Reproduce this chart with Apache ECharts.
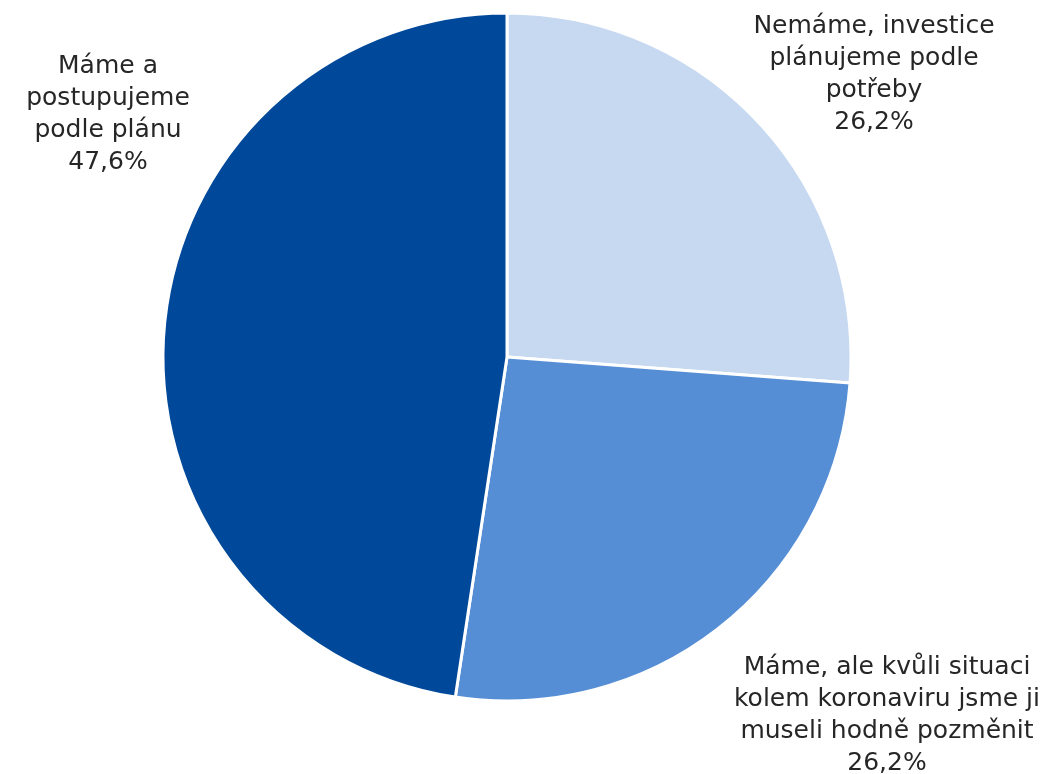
<!DOCTYPE html>
<html>
<head>
<meta charset="utf-8">
<script src="https://cdn.jsdelivr.net/npm/echarts@6/dist/echarts.min.js"></script>
<style>
  html, body { margin: 0; padding: 0; background: #ffffff; }
  #chart { width: 1049px; height: 774px; }
</style>
</head>
<body>
<div id="chart"></div>
<script>
// Slice names and shares (percent), clockwise from 12 o'clock
const categories = [
  'Nemáme, investice\nplánujeme podle\npotřeby',
  'Máme, ale kvůli situaci\nkolem koronaviru jsme ji\nmuseli hodně pozměnit',
  'Máme a\npostupujeme\npodle plánu'
];
const values = [26.2, 26.2, 47.6];
const colors = ['#C6D9F1', '#558ED5', '#00499A'];

// Where each label block is centred
const labelSpots = [
  { x: 874, y: 74 },
  { x: 887, y: 715 },
  { x: 108, y: 114 }
];

const chart = echarts.init(document.getElementById('chart'));
chart.setOption({
  animation: false,
  backgroundColor: '#ffffff',
  series: [{
    type: 'pie',
    center: [507, 357],
    radius: 344,
    startAngle: 90,
    clockwise: true,
    data: categories.map((name, i) => ({
      name,
      value: values[i],
      itemStyle: { color: colors[i] }
    })),
    itemStyle: { borderColor: '#ffffff', borderWidth: 3 },
    label: {
      show: true,
      position: 'outside',
      formatter: p => p.name + '\n' + p.value.toFixed(1).replace('.', ',') + '%',
      fontFamily: 'DejaVu Sans',
      fontSize: 25,
      lineHeight: 32,
      color: '#262626',
      align: 'center',
      overflow: 'none'
    },
    labelLine: { show: false },
    labelLayout: params => ({
      x: labelSpots[params.dataIndex].x,
      y: labelSpots[params.dataIndex].y,
      align: 'center',
      verticalAlign: 'middle',
      width: 400
    })
  }]
});
</script>
</body>
</html>
